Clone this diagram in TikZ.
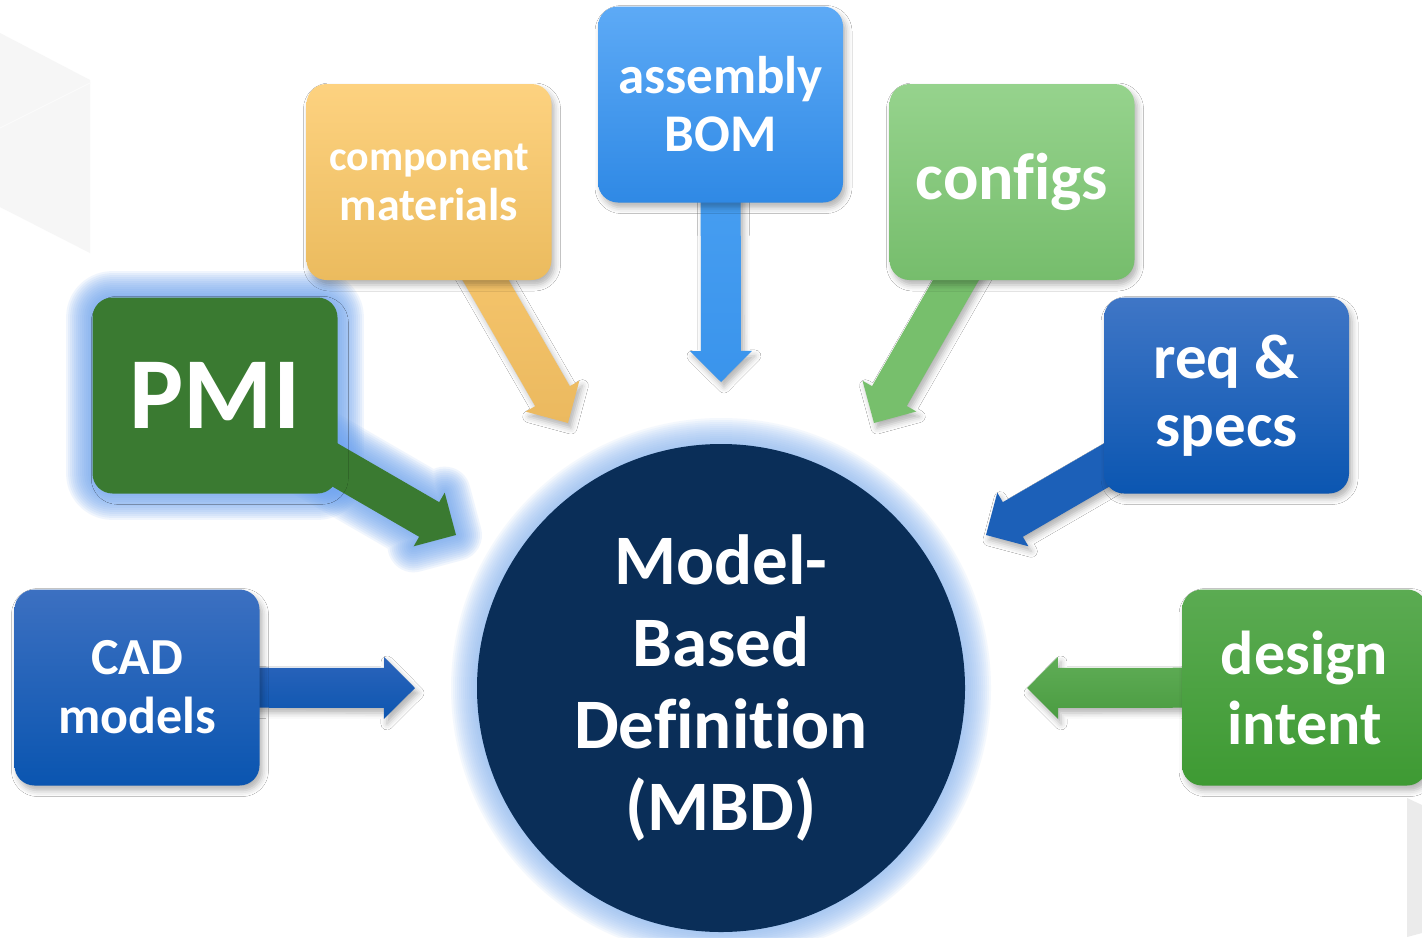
\documentclass[tikz,border=0pt]{standalone}
\usepackage{fontspec}
\setmainfont{Carlito}[Ligatures=NoCommon]
\usetikzlibrary{calc,shadows.blur}
\pgfdeclarelayer{back}
\pgfdeclarelayer{arrows}
\pgfsetlayers{back,arrows,main}
\definecolor{compT}{HTML}{FDD280}\definecolor{compB}{HTML}{EBBB5E}
\definecolor{compAT}{HTML}{FBCB72}\definecolor{compAB}{HTML}{EBB95F}
\definecolor{asmT}{HTML}{5DAAF6}\definecolor{asmB}{HTML}{2F89E5}
\definecolor{asmAT}{HTML}{4CA2F3}\definecolor{asmAB}{HTML}{3A94EC}
\definecolor{cfgT}{HTML}{96D38D}\definecolor{cfgB}{HTML}{76BD6C}
\definecolor{cfgA}{HTML}{77BF6C}
\definecolor{pmiC}{HTML}{3A7A31}
\definecolor{reqT}{HTML}{3F76C6}\definecolor{reqB}{HTML}{0B56B1}
\definecolor{reqA}{HTML}{1C60B8}
\definecolor{cadT}{HTML}{3C70C1}\definecolor{cadB}{HTML}{0A55B0}
\definecolor{cadAT}{HTML}{2C64BB}\definecolor{cadAB}{HTML}{0D56B0}
\definecolor{desT}{HTML}{5BAB52}\definecolor{desB}{HTML}{3E9A33}
\definecolor{desA}{HTML}{4EA444}
\definecolor{navy}{HTML}{0A2E58}
\definecolor{glowc}{HTML}{8DB8F2}
\definecolor{glowp}{HTML}{6FA5F0}
\definecolor{bgL}{HTML}{F6F6F6}
\definecolor{bgR}{HTML}{EBEBEB}
% arrow outline points: #1 prefix, #2 start, #3 tip
\newcommand\arrowpts[3]{%
  \coordinate (#1s) at (#2);
  \coordinate (#1t) at (#3);
  \coordinate (#1h) at ($(#1t)!15.5pt!(#1s)$);
  \coordinate (#1a) at ($(#1s)!10pt!90:(#1t)$);
  \coordinate (#1b) at ($(#1h)!10pt!-90:(#1s)$);
  \coordinate (#1c) at ($(#1h)!15.5pt!-90:(#1s)$);
  \coordinate (#1d) at ($(#1h)!15.5pt!90:(#1s)$);
  \coordinate (#1e) at ($(#1h)!10pt!90:(#1s)$);
  \coordinate (#1f) at ($(#1s)!10pt!-90:(#1t)$);
}
\newcommand\arrowshape[1]{(#1a)--(#1b)--(#1c)--(#1t)--(#1d)--(#1e)--(#1f)--cycle}
\tikzset{
  softshadow/.style={blur shadow={shadow xshift=1.5pt, shadow yshift=-2.5pt, shadow blur radius=3pt, shadow opacity=30}},
  box/.style={rounded corners=10pt, minimum width=122.5pt, minimum height=98pt,
    inner sep=0pt, text=white, align=center, softshadow},
  blockarrow/.style={softshadow},
}
\begin{document}
\begin{tikzpicture}[x=0.5pt,y=-0.5pt]
\useasboundingbox (0,0) rectangle (1422,937);

% central circle
\node[circle, fill=navy, minimum size=244pt, inner sep=0pt, text=white, align=center,
  font=\bfseries\fontsize{35.5}{41}\selectfont] (mbd) at (721,688) {Model-\\Based\\Def\kern0pt inition\\(MBD)};

% boxes
\node[box, top color=compT, bottom color=compB, font=\bfseries\fontsize{23}{25}\selectfont]
  (comp) at (429,182) {{\fontsize{21}{25}\selectfont component}\\materials};
\node[box, top color=asmT, bottom color=asmB, font=\bfseries\fontsize{26.5}{29}\selectfont]
  (asm) at (720.5,104.5) {assembly\\BOM};
\node[box, top color=cfgT, bottom color=cfgB, font=\bfseries\fontsize{33}{36}\selectfont]
  (cfg) at (1012,182) {conf\kern0pt igs};
\node[box, fill=pmiC, blur shadow={shadow opacity=0}, font=\bfseries\fontsize{51}{55}\selectfont]
  (pmi) at (215,395.5) {PMI};
\node[box, top color=reqT, bottom color=reqB, font=\bfseries\fontsize{31.5}{34}\selectfont]
  (req) at (1226.5,395.5) {req \&\\specs};
\node[box, top color=cadT, bottom color=cadB, font=\bfseries\fontsize{26}{29.5}\selectfont]
  (cad) at (137,687.5) {CAD\\models};
\node[box, top color=desT, bottom color=desB, font=\bfseries\fontsize{31}{35}\selectfont]
  (des) at (1304.5,687.5) {design\\intent};

% arrows
\begin{pgfonlayer}{arrows}
  \arrowpts{A}{comp.center}{$(mbd.center)+(120:153pt)$}
  \arrowpts{B}{asm.center}{$(mbd.center)+(90:153pt)$}
  \arrowpts{C}{cfg.center}{$(mbd.center)+(60:153pt)$}
  \arrowpts{P}{pmi.center}{$(mbd.center)+(150:153pt)$}
  \arrowpts{R}{req.center}{$(mbd.center)+(30:153pt)$}
  \arrowpts{K}{cad.center}{$(mbd.center)+(180:153pt)$}
  \arrowpts{D}{des.center}{$(mbd.center)+(0:153pt)$}
  \path[blockarrow, top color=compAT, bottom color=compAB] \arrowshape{A};
  \path[blockarrow, top color=asmAT, bottom color=asmAB] \arrowshape{B};
  \path[blockarrow, fill=cfgA] \arrowshape{C};
  \path[fill=pmiC] \arrowshape{P};
  \path[blockarrow, fill=reqA] \arrowshape{R};
  \path[blockarrow, top color=cadAT, bottom color=cadAB] \arrowshape{K};
  \path[blockarrow, top color=desA!90!white, bottom color=desA!95!black] \arrowshape{D};
\end{pgfonlayer}

% glows and background shapes
\begin{pgfonlayer}{back}
  \fill[white] (0,0) rectangle (1422,937);
  \fill[bgL] (0,33) -- (90,80) -- (90,253) -- (0,207) -- cycle;
  \draw[white!60!bgL, line width=0.5pt] (0,128) -- (90,83);
  \fill[bgR] (1407,798) -- (1422,805) -- (1422,933) -- (1407,937) -- cycle;
  \foreach \i in {1,2,...,13} {
    \fill[glowc, opacity=0.09] (mbd.center) circle (122pt+\i pt);
  }
  \foreach \w in {2,4,...,26} {
    \draw[glowp, opacity=0.1, line width=\w pt, rounded corners=10pt, line join=round]
      (pmi.south west) rectangle (pmi.north east);
    \draw[glowp, opacity=0.1, line width=\w pt, line join=round] \arrowshape{P};
  }
\end{pgfonlayer}
\end{tikzpicture}
\end{document}
